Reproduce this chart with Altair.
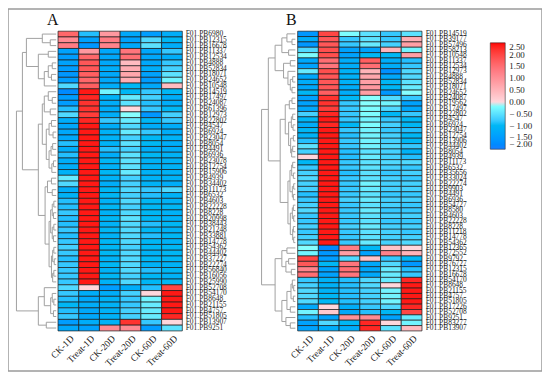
import altair as alt
import pandas as pd

COLS = ["CK-1D", "Treat-1D", "CK-20D", "Treat-20D", "CK-60D", "Treat-60D"]

A_GENES = ["PB6980", "PB12315", "PB16678", "PB11337", "PB12534", "PB4888", "PB52834",
           "PB18071", "PB24652", "PB10548", "PB14519", "PB17497", "PB24087", "PB61396",
           "PB12973", "PB22802", "PB4547", "PB6924", "PB23047", "PB8054", "PB4491",
           "PB6936", "PB23078", "PB12754", "PB15906", "PB4939", "PB34402", "PB11173",
           "PB6532", "PB4603", "PB22228", "PB8228", "PB20998", "PB38443", "PB21248",
           "PB33881", "PB14778", "PB54362", "PB44402", "PB37227", "PB22274", "PB56840",
           "PB16056", "PB25990", "PB52708", "PB54170", "PB8648", "PB21155", "PB4757",
           "PB51805", "PB13907", "PB9251"]

A_VALUES = [
    [1.6, -0.9, 0.9, -1.3, -1.5, -1.2],
    [1.1, -1.4, 1.3, -1.4, -0.6, -1.0],
    [1.3, -1.6, 1.2, -1.3, -0.5, -1.2],
    [-1.4, 0.9, -1.3, 1.4, -1.3, -0.8],
    [-1.5, 1.6, -1.3, 1.5, -1.3, -1.2],
    [-1.4, 1.8, -1.3, 0.4, -1.3, -0.8],
    [-1.5, 1.8, -1.2, 0.6, -1.2, -0.7],
    [-1.6, 1.7, -1.3, 0.7, -1.4, -0.5],
    [-1.5, 1.6, -1.3, 0.6, -1.5, -0.3],
    [-0.6, 1.7, -1.2, -1.0, -1.3, 0.4],
    [-1.8, 2.4, -0.3, -1.0, -0.8, -1.0],
    [-1.5, 2.3, -1.1, -0.4, -0.7, -1.2],
    [-1.5, 2.2, -1.2, -0.5, -0.9, -1.2],
    [-0.9, 2.2, -1.2, 0.0, -0.8, -1.0],
    [-0.6, 2.1, -1.2, -0.1, -1.6, -0.7],
    [-1.2, 2.3, -0.8, -0.4, -1.0, -0.8],
    [-1.3, 2.4, -1.2, -0.6, -1.2, -1.2],
    [-1.3, 2.4, -1.1, -0.4, -0.8, -1.2],
    [-1.3, 2.4, -1.1, -0.7, -1.0, -1.1],
    [-0.9, 2.4, -1.1, -0.5, -1.0, -1.2],
    [-1.2, 2.4, -0.9, -0.7, -1.2, -1.2],
    [-0.9, 2.4, -1.2, -0.5, -1.0, -1.1],
    [-1.2, 2.4, -1.0, -0.5, -1.1, -1.1],
    [-1.2, 2.4, -1.1, -0.5, -1.1, -1.1],
    [-1.1, 2.4, -1.0, -0.4, -1.1, -1.1],
    [-0.4, 2.4, -1.1, -0.7, -1.1, -1.1],
    [-0.6, 2.4, -1.2, -0.7, -1.1, -1.2],
    [-1.2, 2.4, -1.0, -0.6, -0.8, -0.6],
    [-1.1, 2.4, -1.0, -0.7, -0.9, -1.1],
    [-0.9, 2.4, -1.1, -0.6, -1.0, -1.1],
    [-0.9, 2.4, -1.0, -0.7, -1.0, -1.0],
    [-0.8, 2.4, -1.1, -0.6, -1.0, -1.1],
    [-0.9, 2.4, -1.0, -0.5, -1.0, -1.1],
    [-0.9, 2.4, -1.1, -0.6, -0.9, -1.0],
    [-0.8, 2.4, -1.0, -0.6, -1.0, -1.1],
    [-0.9, 2.4, -1.1, -0.6, -0.9, -1.0],
    [-0.8, 2.4, -1.0, -0.6, -1.0, -1.1],
    [-0.7, 2.4, -1.0, -0.7, -1.0, -1.0],
    [-0.8, 2.4, -1.0, -0.6, -1.1, -1.0],
    [-0.9, 2.4, -1.1, -0.6, -1.0, -1.0],
    [-0.8, 2.4, -1.0, -0.6, -1.1, -1.1],
    [-0.8, 2.4, -1.1, -0.6, -0.9, -1.0],
    [-0.8, 2.4, -1.0, -0.7, -1.0, -1.1],
    [-0.8, 2.4, -1.1, -0.6, -1.0, -1.0],
    [-0.6, 0.0, -1.5, -1.2, -0.9, 2.0],
    [-0.8, -1.2, -1.2, -0.7, 0.0, 2.4],
    [-0.9, -1.3, -1.1, -0.8, -0.3, 2.4],
    [-1.0, -1.2, -1.1, -0.8, -0.4, 2.4],
    [-0.9, -1.3, -1.1, -0.7, -0.4, 2.4],
    [-0.8, -1.3, -1.1, -0.7, -0.4, 2.3],
    [-1.5, -1.2, -1.1, 2.2, -0.8, 0.0],
    [-1.3, -1.4, 1.1, 1.1, -1.5, -0.5],
]

B_GENES = ["PB14519", "PB39177", "PB57496", "PB58213", "PB10548", "PB11337", "PB12534",
           "PB12973", "PB4888", "PB52834", "PB18071", "PB24652", "PB24087", "PB19562",
           "PB17497", "PB22802", "PB4547", "PB6924", "PB23047", "PB12754", "PB13906",
           "PB44402", "PB8054", "PB4939", "PB11173", "PB6532", "PB35656", "PB33024",
           "PB22274", "PB9903", "PB4491", "PB6936", "PB54727", "PB8580", "PB4603",
           "PB22228", "PB8228", "PB11218", "PB14778", "PB54362", "PB12365", "PB72552",
           "PB9792", "PB76727", "PB12315", "PB16678", "PB54170", "PB8648", "PB21155",
           "PB4757", "PB51805", "PB17226", "PB52708", "PB9251", "PB83277", "PB13907"]

B_VALUES = [
    [-1.6, 2.0, -0.2, -0.5, -0.8, -0.5],
    [-1.2, 1.8, -0.8, -0.5, -0.8, 0.6],
    [-1.6, 1.8, -0.8, -0.4, -0.7, 0.8],
    [-0.6, 1.9, -1.4, -1.4, 0.5, -0.3],
    [-0.2, 1.9, -1.4, -1.0, -1.0, 0.8],
    [-1.3, 1.5, -1.2, 1.7, -1.2, -0.9],
    [-1.4, 1.4, -1.2, 1.5, -1.2, -0.8],
    [-0.4, 1.9, -1.1, 0.5, -1.7, -0.6],
    [-1.3, 1.8, -1.1, 0.7, -1.3, -0.6],
    [-1.2, 1.8, -1.1, 0.8, -1.0, -0.5],
    [-1.3, 1.8, -1.2, 0.9, -1.0, -0.4],
    [-1.0, 1.7, -1.2, 0.8, -1.6, -0.1],
    [-1.4, 2.2, -1.0, -0.1, -0.6, -0.8],
    [-1.4, 2.2, -0.8, -0.1, -0.3, -1.4],
    [-1.3, 2.1, -0.8, -0.2, -0.6, -1.3],
    [-0.7, 2.3, -0.8, -0.2, -1.0, -0.8],
    [-1.0, 2.4, -0.8, -0.3, -0.8, -1.0],
    [-1.2, 2.3, -1.0, -0.2, -0.7, -1.0],
    [-1.0, 2.4, -0.8, -0.3, -0.8, -0.9],
    [-1.1, 2.4, -0.9, -0.3, -0.7, -1.0],
    [-0.9, 2.4, -0.8, -0.3, -0.7, -1.0],
    [-0.5, 2.4, -0.8, -0.3, -0.6, -0.8],
    [-0.7, 2.4, -0.9, -0.5, -0.7, -1.1],
    [0.0, 2.4, -0.9, -0.4, -0.7, -0.9],
    [-1.0, 2.4, -0.8, -0.5, -0.6, -0.6],
    [-0.8, 2.4, -0.8, -0.5, -0.7, -0.8],
    [-0.7, 2.4, -0.9, -0.5, -0.8, -0.7],
    [-0.6, 2.4, -0.8, -0.5, -0.7, -0.8],
    [-0.7, 2.4, -0.8, -0.3, -0.7, -0.7],
    [-0.7, 2.4, -0.8, -0.4, -0.7, -0.7],
    [-0.9, 2.4, -0.8, -0.5, -0.8, -0.8],
    [-0.8, 2.4, -0.7, -0.4, -0.7, -0.7],
    [-0.7, 2.4, -0.8, -0.5, -0.7, -0.8],
    [-0.6, 2.4, -0.8, -0.4, -0.8, -0.8],
    [-0.8, 2.4, -0.8, -0.5, -0.7, -0.7],
    [-0.8, 2.4, -0.8, -0.5, -0.8, -0.8],
    [-0.7, 2.4, -0.7, -0.4, -0.7, -0.7],
    [-0.8, 2.4, -0.8, -0.5, -0.7, -0.8],
    [-0.7, 2.4, -0.8, -0.5, -0.7, -0.7],
    [-0.6, 2.4, -0.8, -0.4, -0.7, -0.6],
    [-0.1, -1.8, 1.3, -1.0, 0.3, 0.0],
    [-0.3, -1.6, 0.8, -1.4, 1.2, 0.5],
    [2.0, -1.5, -0.6, 0.3, -0.8, -1.0],
    [1.8, -1.0, 1.4, -1.3, -0.6, -1.6],
    [1.2, -1.4, 1.5, -1.3, -0.4, -0.9],
    [1.5, -1.4, 1.4, -1.3, -0.4, -0.8],
    [-0.8, -1.1, -0.9, -0.6, -0.4, 2.3],
    [-0.7, -1.1, -0.9, -0.6, 0.0, 2.4],
    [-0.6, -1.1, -0.9, -0.7, -0.3, 2.4],
    [-0.6, -1.0, -0.9, -0.7, -0.3, 2.4],
    [-0.6, -1.0, -0.9, -0.7, -0.3, 2.4],
    [-1.3, 0.0, -1.2, -0.8, -0.6, 2.3],
    [-0.3, 0.2, -1.3, -0.9, -1.0, 2.0],
    [-0.9, -1.4, 1.0, 1.1, -1.4, -0.4],
    [-1.4, -0.6, -1.0, 2.3, 0.0, -0.3],
    [-1.4, -1.2, -1.2, 2.3, -0.5, 0.4],
]

# Row clustering trees: [left, right, merge height]; leaves are row indices
A_TREE = [
    [[[0, [1, 2, 1.5], 3.5],
      [[3, 4, 2.0], [[[5, 6, 1.0], [7, 8, 1.2], 2.0], 9, 3.0], 4.5], 7.5],
     [[[[10, [11, 12, 1.0], 2.0], [13, 14, 1.5], 3.0],
       [[[15, 16, 1.2], [17, 18, 0.8], 1.8],
        [[[19, 20, 0.9], 21, 1.3], [[22, 23, 0.7], 24, 1.1], 1.8], 2.5], 3.5],
      [[[25, 26, 1.2], [27, 28, 1.0], 2.2],
       [[[[29, 30, 0.6], [31, 32, 0.7], 1.0], [[33, 34, 0.6], [35, 36, 0.7], 1.0], 1.4],
        [[[37, 38, 0.6], [39, 40, 0.5], 0.9], [[41, 42, 0.6], 43, 0.9], 1.2], 1.8], 2.8], 4.5],
     8.5],
    [[44, [[45, [46, 47, 0.6], 1.0], [48, 49, 0.7], 1.4], 3.0], [50, 51, 2.5], 4.5],
    10.0]

B_TREE = [
    [[[[0, [1, 2, 1.0], 2.5], [3, 4, 2.0], 4.0],
      [[5, 6, 1.5], [7, [[8, 9, 0.8], [10, 11, 1.0], 1.5], 2.2], 3.5], 6.0],
     [[[[12, 13, 1.0], 14, 1.8],
       [[[15, 16, 0.8], [17, 18, 0.7], 1.2], [[19, 20, 0.6], [[21, 22, 0.8], 23, 1.1], 1.4], 2.0], 3.0],
      [[[[24, 25, 0.8], [26, 27, 0.6], 1.1], [[28, 29, 0.5], [30, 31, 0.6], 0.9], 1.6],
       [[[32, 33, 0.6], [34, 35, 0.5], 0.9], [[36, 37, 0.6], [38, 39, 0.5], 0.8], 1.5], 2.2], 4.5],
     8.0],
    [[[40, 41, 2.5], [[42, 43, 2.0], [44, 45, 1.2], 2.8], 4.0],
     [[[[46, [47, 48, 0.5], 0.9], [49, 50, 0.6], 1.3], [51, 52, 1.5], 2.5],
      [53, [54, 55, 1.5], 2.8], 4.0], 6.0],
    10.0]

COLOR_DOMAIN = [-2.0, -1.0, 0.0, 1.25, 2.5]
COLOR_RANGE = ["#1a7dff", "#00b7f5", "#ffffff", "#ff8088", "#ff0000"]
LEGEND_VALUES = [2.5, 2.0, 1.5, 1.0, 0.5, 0.0, -0.5, -1.0, -1.5, -2.0]

SERIF = "Liberation Serif"
HEAT_Y = [22.3, 323.7]
A_HEAT_X = [50.3, 175.3]
B_HEAT_X = [291.3, 416.3]
A_DEND_X = [48.5, 8.5]
B_DEND_X = [289.0, 255.0]


def heat_df(genes, values):
    rows = []
    for i, (g, vals) in enumerate(zip(genes, values)):
        for c, v in zip(COLS, vals):
            rows.append({"row": i, "gene": "F01." + g, "col": c, "value": v})
    return pd.DataFrame(rows)


def dendro_df(tree):
    segs = []

    def walk(node):
        if isinstance(node, int):
            return node + 0.5, 0.0
        l, r, h = node
        yl, hl = walk(l)
        yr, hr = walk(r)
        segs.append({"x": h, "x2": h, "y": yl, "y2": yr})
        segs.append({"x": hl, "x2": h, "y": yl, "y2": yl})
        segs.append({"x": hr, "x2": h, "y": yr, "y2": yr})
        return (yl + yr) / 2, h

    walk(tree)
    return pd.DataFrame(segs)


color_enc = alt.Color(
    "value:Q",
    scale=alt.Scale(domain=COLOR_DOMAIN, range=COLOR_RANGE, clamp=True),
    legend=alt.Legend(
        orient="none", legendX=485, legendY=34, direction="vertical",
        gradientLength=107, gradientThickness=15, title=None,
        values=LEGEND_VALUES,
        labelExpr="datum.value < 0 ? '\u2212 ' + format(-datum.value, '.2f') : format(datum.value, '.2f')",
        labelFont=SERIF, labelFontSize=9, labelColor="#222", labelOverlap=False,
        gradientStrokeColor="#333", gradientStrokeWidth=0.6, padding=0, labelOffset=4,
    ),
)


def panel(genes, values, tree, heat_x, dend_x, label_x):
    n = len(genes)
    hdf = heat_df(genes, values)
    yband = alt.Scale(domain=list(range(n)), range=HEAT_Y, paddingInner=0, paddingOuter=0)
    heat = alt.Chart(hdf).mark_rect(stroke="#1a1a1a", strokeWidth=0.7).encode(
        x=alt.X("col:N", scale=alt.Scale(domain=COLS, range=heat_x, paddingInner=0, paddingOuter=0), axis=None),
        y=alt.Y("row:O", scale=yband, axis=None),
        color=color_enc,
    )
    labels = alt.Chart(pd.DataFrame({"row": list(range(n)), "gene": ["F01." + g for g in genes]})).mark_text(
        align="left", baseline="middle", font=SERIF, fontSize=7.5, color="#222"
    ).encode(
        x=alt.value(label_x),
        y=alt.Y("row:O", scale=yband, axis=None),
        text="gene:N",
    )
    collab = alt.Chart(pd.DataFrame({"col": COLS})).mark_text(
        align="right", baseline="middle", angle=315, font=SERIF, fontSize=9.5, color="#222"
    ).encode(
        x=alt.X("col:N", scale=alt.Scale(domain=COLS, range=[heat_x[0] + 4, heat_x[1] + 4],
                                         paddingInner=0, paddingOuter=0), axis=None),
        y=alt.value(330),
        text="col:N",
    )
    dend = alt.Chart(dendro_df(tree)).mark_rule(color="#a0a0a0", strokeWidth=1).encode(
        x=alt.X("x:Q", scale=alt.Scale(domain=[0, 10], range=dend_x, nice=False, zero=False), axis=None),
        x2="x2:Q",
        y=alt.Y("y:Q", scale=alt.Scale(domain=[0, n], range=HEAT_Y, nice=False, zero=False), axis=None),
        y2="y2:Q",
    )
    return [dend, heat, labels, collab]


letters = pd.DataFrame({"t": ["A", "B"], "px": [45, 285]})
letter_layers = [
    alt.Chart(letters[letters.t == t]).mark_text(
        font=SERIF, fontSize=16, align="center", baseline="alphabetic", color="#111"
    ).encode(x=alt.value(px), y=alt.value(16), text="t:N")
    for t, px in zip(letters.t, letters.px)
]

layers = (panel(A_GENES, A_VALUES, A_TREE, A_HEAT_X, A_DEND_X, 178.7)
          + panel(B_GENES, B_VALUES, B_TREE, B_HEAT_X, B_DEND_X, 420.0)
          + letter_layers)

chart = alt.layer(*layers).resolve_scale(x="independent", y="independent").properties(
    width=537, height=364, padding=0, autosize=alt.AutoSizeParams(type="none")
).configure_view(stroke="#9a9a9a", strokeWidth=1.5)

chart.save("out.html", embed_options={"renderer": "svg", "actions": False})
